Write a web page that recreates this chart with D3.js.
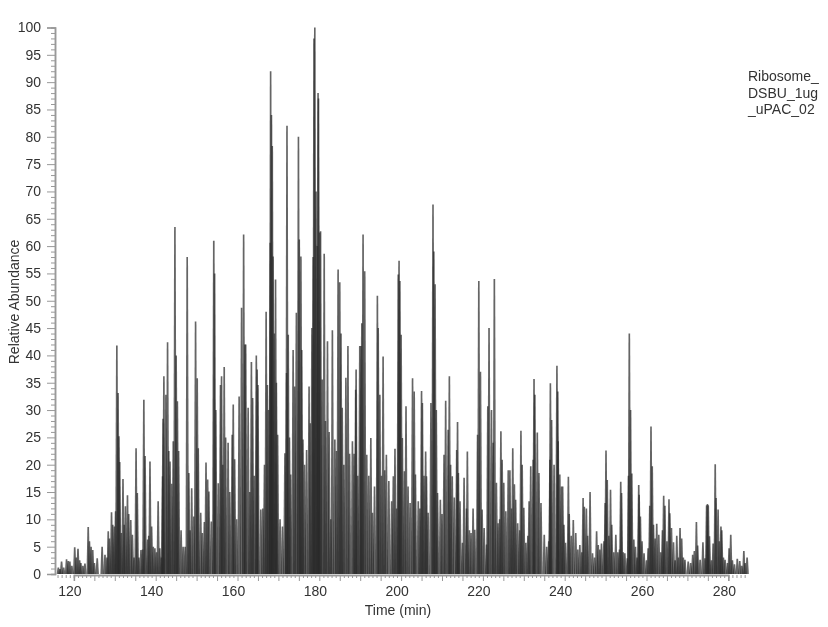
<!DOCTYPE html>
<html><head><meta charset="utf-8">
<script src="https://cdn.jsdelivr.net/npm/d3@7"></script>
<style>html,body{margin:0;padding:0;background:#fff}svg{display:block;filter:blur(.4px)}</style>
</head><body><svg id="c" width="828" height="627"></svg>
<script>
const xLabels=[120,140,160,180,200,220,240,260,280];
const yLabels=[0,5,10,15,20,25,30,35,40,45,50,55,60,65,70,75,80,85,90,95,100];
const xTitle="Time (min)", yTitle="Relative Abundance";
const legendLines=["Ribosome_","DSBU_1ug","_uPAC_02"];
const earlyPeaks=[[116.2,1.2],[116.6,.9],[116.98,2.3],[117.5,1.2],[118.2,2.7],[118.6,2.4],[119,2.3],[119.5,1.5],[120.2,4.9],[120.6,3],[121,4.6],[121.4,2.5],[121.7,2],[122.2,1.5],[122.7,1.9],[123.5,8.6],[123.8,6],[124.2,5],[124.6,4.4],[125,2],[125.7,2.9],[126.9,5],[127.6,3.5],[128.1,3],[128.4,7.8],[128.7,6.5],[129.2,11.3],[129.5,9],[129.9,8.7],[130.2,11.5],[130.5,41.8],[130.8,33.1],[131,25.2],[131.2,20.5],[131.6,7.5],[132,17.4],[132.3,9],[132.6,12.4],[133.1,14.4],[133.4,11],[133.9,9.9],[134.3,7.2],[134.7,3],[135.2,23],[135.5,14.8],[135.9,3],[136.4,4.4],[136.8,4.5],[137.1,31.9],[137.4,21.6],[138,6.3],[138.3,7],[138.6,20.6],[139,8.7],[139.4,5],[139.8,4.7],[140.2,4],[140.6,13.3],[141,4.7],[141.4,3],[141.7,17.9],[141.8,28.4],[142,36.2],[142.5,32.8],[142.9,42.4],[143.2,22.5],[143.5,20.6],[143.9,16.5],[144.3,24.3],[144.7,63.5],[145,40],[145.3,31.6],[145.6,22.5],[146.2,8],[146.7,5],[147.2,5],[147.7,58],[148.1,18.5],[148.4,8],[148.8,15.7],[149.3,10.5],[149.75,46.2],[150.15,35.8],[150.4,23],[151,11.2],[151.4,7.5],[151.9,9.5],[152.3,20.4],[152.7,17.3],[153,15.1],[153.6,9.6],[154.2,61],[154.4,55],[154.7,30],[155.3,16.6],[155.85,34.6],[156.1,36.2],[156.4,20],[156.75,37.9],[157.1,25],[157.7,24],[158.1,15]];
const middlePeaks=[[158.7,25.5],[158.96,31],[159.3,21],[159.8,10],[160.4,32.5],[161,48.7],[161.5,62.1],[161.8,42],[162,42],[162.6,30.4],[163,15],[163.4,38.8],[163.7,32.2],[164.1,18],[164.6,40],[164.8,37.4],[165,34.6],[165.7,11.8],[166.2,12],[166.6,20],[167,48],[167.3,34.6],[167.6,30],[168,60.6],[168.1,92],[168.3,84],[168.5,78.3],[168.7,58.1],[169,44],[169.3,53.9],[169.5,35],[169.8,25.5],[170.4,10],[171,8.7],[171.6,22.1],[172,36.8],[172.1,82],[172.4,43.8],[172.7,25],[173,18.2],[173.6,41],[174,34.3],[174.4,47.8],[174.9,80],[175.1,61.2],[175.5,58.1],[175.7,41],[176,24.6],[176.4,20],[176.9,22.7],[177.5,34.3],[177.8,27.6],[178.2,45],[178.5,58],[178.7,98],[178.9,100],[179.2,70],[179.5,60],[179.7,88],[179.8,87],[180.1,62.5],[180.3,62.7],[180.7,35.6],[181.2,58.6],[181.5,28],[182,42.6],[182.4,26],[182.8,10],[183.2,44.6],[183.8,24.6],[184.2,22.5],[184.6,55.7],[185,53.4],[185.3,44],[185.6,30.4],[186,20],[186.5,35.9],[187,41.7],[187.4,22],[188.1,24.3],[188.5,22],[188.9,33.7],[189,37.4],[189.4,18],[189.9,41.7],[190.2,41.7],[190.4,45.9],[190.7,62.1],[191.1,55.4],[191.6,21.8],[192.1,18],[192.6,24.9],[193,11.2],[193.5,16],[194.2,50.9],[194.4,45],[194.8,32.8],[195.2,18],[195.6,39.8],[196,19],[196.4,21.8],[197,17],[197.7,13.3],[198.1,17.9],[198.5,22.9],[198.9,12],[199.3,54.8],[199.5,57.3],[199.7,53.6],[200,43.8],[200.3,24.9],[200.8,18.8],[201.2,30.7],[201.7,16],[202.2,13],[202.8,35.8],[203.2,33.4],[203.5,18.2],[204.2,13.3],[204.6,12],[205,33.5],[205.2,31.3],[205.6,18],[206,22.4],[206.2,17.9],[206.6,11.2],[207.3,31.3],[207.8,67.6],[208,59],[208.3,53],[208.6,30],[208.9,14.8],[209.6,13.6],[210,11],[210.5,21.8],[210.9,31.7],[211.5,26.4],[211.8,36.2],[212.1,20],[212.5,17.9],[213,14],[213.6,22.7],[213.8,27.8],[214,18.5],[214.4,13.3],[215,5.7],[215.4,17.6],[216,12],[216.2,22.4],[216.7,8],[217.1,7.5],[217.6,12],[218,8.1],[218.7,25.5],[219,53.6],[219.4,37],[219.8,11.8],[220.3,8.4],[220.9,5.4],[221.2,30.7],[221.5,45],[222.1,30],[222.5,24],[222.8,54],[223.3,16.7],[223.7,9.3],[224.1,10],[224.4,26.1],[224.7,20.9],[225.1,16.7],[225.6,11.5],[226.2,19],[226.6,19],[227,12],[227.3,23],[227.7,16.4],[228,13.6],[228.5,9.3],[229,8],[229.3,26.2],[229.6,20],[230,12.1],[230.5,5.7],[231,7],[231.3,13.3],[231.7,19.7],[232.3,20.9],[232.5,35.7],[232.7,32.8],[233.3,25.9],[233.7,18.5],[234.2,13],[235,7.2],[235.6,5],[236.1,6],[236.4,20.9],[236.5,34.9],[236.8,28.2],[237.4,20],[238.1,38.1],[238.3,33.4],[238.4,24.3],[238.8,18.2],[239.2,16],[239.5,16],[239.8,9],[240.2,5.7]];
const latePeaks=[[240.9,17.8],[241.1,11],[241.6,7],[242.1,9.9],[242.7,7.5],[243.2,4.5],[243.7,5.3],[244.2,4],[244.5,13.9],[244.8,12.3],[245.3,12],[245.6,7],[246.2,15],[246.8,3.8],[247.3,3],[247.8,7.8],[248.2,5.3],[248.6,4.5],[249,5.6],[249.6,6],[249.9,13],[250.1,22.6],[250.4,17.2],[250.8,7],[251.2,15.4],[251.5,9],[252,4],[252.5,7.2],[253,4],[253.4,4.5],[253.7,16.9],[253.9,14.8],[254.3,4],[254.7,3.8],[255.3,2.9],[255.6,18],[255.8,44],[256.1,30],[256.4,18.4],[256.9,6.3],[257.3,5],[257.7,3],[258.1,16.3],[258.2,14.5],[258.5,10.5],[258.9,6],[259.4,3.8],[260,2.5],[260.4,4.7],[260.8,12.5],[261.1,27],[261.4,19.7],[261.7,9],[262.1,6.5],[262.5,9.2],[263,7.2],[263.5,4],[263.9,8],[264.2,14.3],[264.5,12.5],[265,6],[265.5,13.7],[265.7,11.1],[266.1,8.4],[266.6,5.8],[267,2.5],[267.4,7],[267.8,3],[268.2,8.4],[268.6,6.5],[269,3],[269.4,2.6],[270.2,2.3],[270.8,2],[271.3,3.5],[271.7,4.2],[272.2,9.5],[272.5,5.2],[273.1,2.6],[273.8,5.8],[274.3,2.9],[274.7,12.6],[274.9,12.8],[275.1,12.6],[275.4,6.9],[275.9,2.5],[276.3,5.6],[276.8,20.1],[277,13.9],[277.5,11.8],[277.8,6],[278.2,8.7],[278.4,8],[278.8,3],[279.2,2.6],[279.8,2],[280.2,4.7],[280.6,7.2],[281,2.5],[281.5,1.8],[282.2,2.8],[282.8,2.4],[283.3,1.5],[283.8,4.2],[284.1,2],[284.6,3]];

const svg=d3.select("#c");
const x=d3.scaleLinear().domain([120,280]).range([73.9,728.3]);
const y=d3.scaleLinear().domain([0,100]).range([574,27.5]);
const xEnd=285, xStart=116;
const baseHalf=.42, tipHalf=.2;
const shape=d3.area().x(d=>x(d[0])).y0(y(0)).y1(d=>y(d[1]));
const peaks=earlyPeaks.concat(middlePeaks,latePeaks);
const g=svg.append("g");
g.selectAll("path.peak").data(peaks).join("path").attr("class","peak")
 .attr("d",([t,h])=>shape([[t-baseHalf,0],[t-tipHalf,h],[t+tipHalf,h],[t+baseHalf,0]]))
 .attr("fill","#2a2a2a").attr("fill-opacity",.72);

const axisColor="#999", textColor="#333", font="'Liberation Sans',Arial,sans-serif";
const rangeInt=(a,b)=>d3.range(a,b+1);
const ya=svg.append("g").attr("transform","translate(55,0)");
ya.call(d3.axisLeft(y).tickValues(rangeInt(0,100).filter(v=>v%5)).tickSize(4).tickFormat(""));
const ya2=svg.append("g").attr("transform","translate(55,0)");
ya2.call(d3.axisLeft(y).tickValues(yLabels).tickSize(8).tickPadding(6));
const xa=svg.append("g").attr("transform","translate(0,575)");
xa.call(d3.axisBottom(x).tickValues(rangeInt(xStart,xEnd).filter(v=>v%5)).tickSize(3).tickFormat(""));
const xa2=svg.append("g").attr("transform","translate(0,575)");
xa2.call(d3.axisBottom(x).tickValues(d3.range(120,285,5)).tickSize(6).tickFormat(""));
const xa3=svg.append("g").attr("transform","translate(-4.5,575)");
xa3.call(d3.axisBottom(x).tickValues(xLabels).tickSize(0).tickPadding(11));
xa3.selectAll("line,path").remove();
svg.selectAll("g .tick line").attr("stroke",axisColor);
svg.selectAll("g .domain").attr("stroke",axisColor).attr("stroke-width",1.5);
svg.selectAll(".tick text").attr("font-family",font).attr("font-size",14).attr("fill",textColor);
svg.append("text").attr("x",398).attr("y",615).attr("text-anchor","middle").attr("font-family",font).attr("font-size",14).attr("fill",textColor).text(xTitle);
svg.append("text").attr("transform","translate(18.5,302) rotate(-90)").attr("text-anchor","middle").attr("font-family",font).attr("font-size",14).attr("fill",textColor).text(yTitle);
svg.append("g").selectAll("text").data(legendLines).join("text").attr("x",748).attr("y",(d,i)=>81+i*16.5)
 .attr("font-family",font).attr("font-size",14).attr("fill",textColor).text(d=>d);
</script></body></html>
